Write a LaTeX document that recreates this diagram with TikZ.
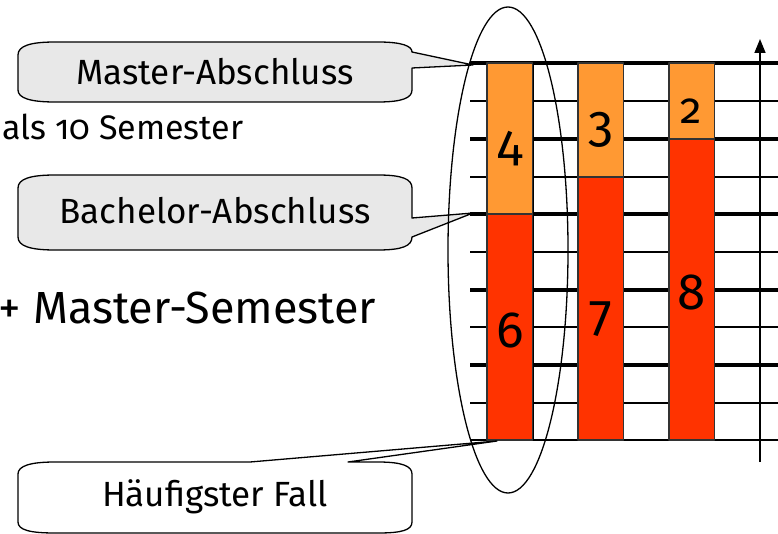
\documentclass[tikz,border=0pt]{standalone}
\usepackage{fontspec}
\setmainfont[Numbers=OldStyle]{Fira Sans}
\usetikzlibrary{arrows.meta}
\definecolor{hell}{HTML}{FF9933}
\definecolor{rot}{HTML}{FF3300}
\definecolor{blase}{HTML}{E8E8E8}
\begin{document}
\begin{tikzpicture}[x=1pt,y=-1pt,line width=1.6pt,line join=round,>={Triangle[length=14pt,width=11pt]},
	dick/.style={line width=3.4pt},
	balken/.style={draw=black!80,line width=1.4pt},
	zahl/.style={inner sep=0pt,font=\fontsize{51}{51}\selectfont},
	schrift/.style={inner sep=0pt,font=\fontsize{35}{40}\selectfont},
	blasenrand/.style={line width=1.3pt}]
	\useasboundingbox (0,0) rectangle (778,534);
	\clip (0,0) rectangle (778,534);
	% Raster
	\foreach \y in {101,177,252,327,403,440} \draw (470,\y)--(778,\y);
	\foreach \y in {63,139,214,290,365} \draw[dick] (470,\y)--(778,\y);
	\foreach \x in {487,532.7,578,623.3,669,714.3} \draw (\x,63)--(\x,440);
	\coordinate (U) at (760,462);
	\coordinate (O) at (760,39);
	\draw[->] (U)--(O);
	% Balken
	\draw[balken,fill=hell] (487,63) rectangle (532.7,214);
	\draw[balken,fill=rot] (487,214) rectangle (532.7,440);
	\draw[balken,fill=hell] (578,63) rectangle (623.3,177);
	\draw[balken,fill=rot] (578,177) rectangle (623.3,440);
	\draw[balken,fill=hell] (669,63) rectangle (714.3,139);
	\draw[balken,fill=rot] (669,139) rectangle (714.3,440);
	\node[zahl] (a) at (510,149) {4};
	\node[zahl] (b) at (510,330) {6};
	\node[zahl] (c) at (601,130) {3};
	\node[zahl] (d) at (601,319) {7};
	\node[zahl,font=\fontsize{43}{43}\selectfont] (e) at (691,111) {2};
	\node[zahl] (f) at (692,292) {8};
	% Sprechblasen
	\coordinate (T1) at (473,65);
	\coordinate (T2) at (473,213);
	\coordinate (T3) at (497,441);
	\draw[blasenrand,fill=blase] (18,55) .. controls (18,46) and (30,42) .. (55,42) -- (378,42)
		.. controls (402,42) and (412,46) .. (412,52) -- (T1) -- (412,68) -- (412,90)
		.. controls (412,98) and (402,102) .. (378,102) -- (55,102)
		.. controls (30,102) and (18,98) .. (18,90) -- cycle;
	\draw[blasenrand,fill=blase] (18,188) .. controls (18,179) and (30,175) .. (55,175) -- (378,175)
		.. controls (402,175) and (412,179) .. (412,188) -- (412,218) -- (T2) -- (412,237)
		.. controls (412,246) and (402,250) .. (378,250) -- (55,250)
		.. controls (30,250) and (18,246) .. (18,237) -- cycle;
	\draw[blasenrand,fill=white] (18,474) .. controls (18,466) and (30,462) .. (55,462) -- (250,462)
		-- (T3) -- (348,462) -- (378,462) .. controls (402,462) and (412,466) .. (412,474)
		-- (412,522) .. controls (412,530) and (402,533) .. (378,533) -- (55,533)
		.. controls (30,533) and (18,530) .. (18,522) -- cycle;
	\node[schrift] (M) at (215,72) {Master-Abschluss};
	\node[schrift] (B) at (215,211) {Bachelor-Abschluss};
	\node[schrift] (H) at (215,497) {Häufigster Fall};
	% Texte links
	\node[schrift,anchor=base east,font=\fontsize{34}{40}\selectfont] (S) at (244,140) {als 10 Semester};
	\node[schrift,anchor=base east,font=\fontsize{45}{50}\selectfont] (Z) at (377,323) {+ Master-Semester};
	% Ellipse
	\draw[line width=1.3pt] (508,250) ellipse [x radius=60,y radius=243];
\end{tikzpicture}
\end{document}
